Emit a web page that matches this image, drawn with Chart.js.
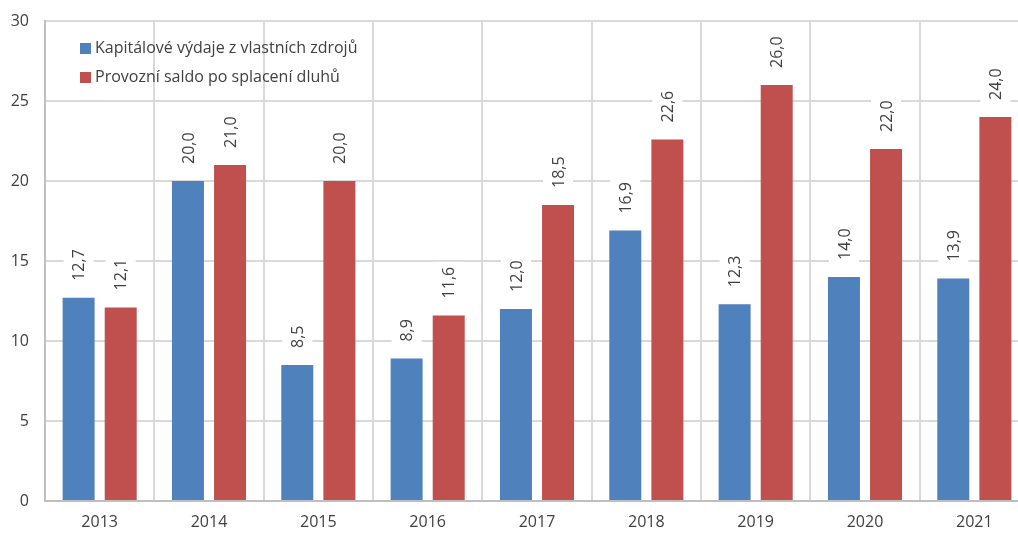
<!DOCTYPE html>
<html>
<head>
<meta charset="utf-8">
<script src="https://cdn.jsdelivr.net/npm/chart.js@4.4.1/dist/chart.umd.min.js"></script>
<style>
  html, body { margin: 0; padding: 0; background: #fff; overflow: hidden; }
  #wrap { position: relative; width: 1030px; height: 534px; }
  #legend { position: absolute; left: 80px; top: 33px; font-family: "Open Sans", "Liberation Sans", sans-serif;
            font-size: 16px; color: #404040; line-height: 29px; }
  #legend span.box { display: inline-block; width: 11px; height: 11px; margin-right: 4px; vertical-align: -1px; }
</style>
</head>
<body>
<div id="wrap">
  <canvas id="c" width="1030" height="534"></canvas>
  <div id="legend"></div>
</div>
<script>
// chart data
const years = ["2013", "2014", "2015", "2016", "2017", "2018", "2019", "2020", "2021"];
const kapitalove = [12.7, 20.0, 8.5, 8.9, 12.0, 16.9, 12.3, 14.0, 13.9];
const saldo = [12.1, 21.0, 20.0, 11.6, 18.5, 22.6, 26.0, 22.0, 24.0];
const seriesNames = ["Kapitálové výdaje z vlastních zdrojů", "Provozní saldo po splacení dluhů"];
const seriesColors = ["#4F81BD", "#C0504D"];

const FONT = '"Open Sans", "Liberation Sans", sans-serif';

// rotated value labels with a white box behind them (cuts the gridlines like the original)
const valueLabels = {
  id: "valueLabels",
  afterDatasetsDraw(chart) {
    const ctx = chart.ctx;
    ctx.save();
    ctx.font = "16px " + FONT;
    chart.data.datasets.forEach((ds, i) => {
      chart.getDatasetMeta(i).data.forEach((bar, j) => {
        const txt = ds.data[j].toFixed(1).replace(".", ",");
        const w = ctx.measureText(txt).width;
        ctx.save();
        ctx.translate(bar.x, bar.y - 17);
        ctx.rotate(-Math.PI / 2);
        ctx.fillStyle = "#fff";
        ctx.fillRect(-5, -15, w + 10, 30);
        ctx.fillStyle = "#404040";
        ctx.textAlign = "left";
        ctx.textBaseline = "middle";
        ctx.fillText(txt, 0, 1);
        ctx.restore();
      });
    });
    ctx.restore();
  }
};

new Chart(document.getElementById("c"), {
  type: "bar",
  data: {
    labels: years,
    datasets: [
      { label: seriesNames[0], data: kapitalove, backgroundColor: seriesColors[0] },
      { label: seriesNames[1], data: saldo, backgroundColor: seriesColors[1] },
    ],
  },
  options: {
    responsive: false,
    animation: false,
    layout: { padding: { top: 21, right: 1, left: 0, bottom: 0 } },
    datasets: { bar: { categoryPercentage: 0.77, barPercentage: 0.76 } },
    plugins: { legend: { display: false }, tooltip: { enabled: false } },
    scales: {
      x: {
        grid: { color: "#d9d9d9", lineWidth: 2, drawTicks: false, offset: true },
        border: { color: "#bfbfbf", width: 2 },
        ticks: { color: "#404040", font: { family: FONT, size: 16 }, padding: 12 },
        afterFit: (s) => { s.height = 33; },
      },
      y: {
        min: 0, max: 30,
        grid: { color: "#d9d9d9", lineWidth: 2, drawTicks: false },
        border: { color: "#bfbfbf", width: 2 },
        // small lineHeight keeps the label overflow padding from pushing the plot down
        ticks: { stepSize: 5, color: "#404040", font: { family: FONT, size: 16, lineHeight: 0.6 }, padding: 16 },
        afterFit: (s) => { s.width = 45; },
      },
    },
  },
  plugins: [valueLabels],
});

// legend in the top-left corner of the plot
const legend = document.getElementById("legend");
seriesNames.forEach((n, i) => {
  const row = document.createElement("div");
  row.innerHTML = '<span class="box" style="background:' + seriesColors[i] + '"></span>' + n;
  legend.appendChild(row);
});
</script>
</body>
</html>
